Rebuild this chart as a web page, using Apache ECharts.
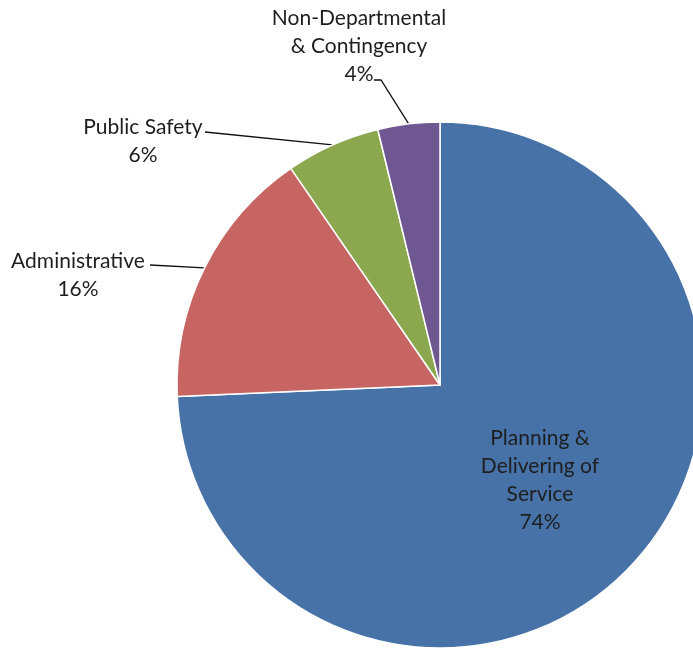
<!DOCTYPE html>
<html>
<head>
<meta charset="utf-8">
<script src="https://cdn.jsdelivr.net/npm/echarts@6/dist/echarts.min.js"></script>
<style>
html,body{margin:0;padding:0;background:#fff;}
#chart{width:693px;height:649px;}
</style>
</head>
<body>
<div id="chart"></div>
<script>
const categories = ['Planning & Delivering of Service', 'Administrative', 'Public Safety', 'Non-Departmental & Contingency'];
const labelTexts = ['Planning &\nDelivering of\nService', 'Administrative', 'Public Safety', 'Non-Departmental\n& Contingency'];
const values = [74.3, 16.1, 5.8, 3.8];
const colors = ['#4672A8', '#C76562', '#8BA84F', '#6F5792'];

// label placement (layout only)
const labelCenters = [[540, 480], [78, 275], [143, 141], [359, 46]];
const lineTails = [null, [[150, 265]], [[205, 132]], [[381, 80], [374, 80]]];

const chart = echarts.init(document.getElementById('chart'));
chart.setOption({
  animation: false,
  series: [{
    type: 'pie',
    center: [440, 385],
    radius: 263,
    startAngle: 90,
    clockwise: true,
    avoidLabelOverlap: false,
    data: categories.map((c, i) => ({
      name: c,
      value: values[i],
      itemStyle: { color: colors[i] },
      label: { position: i === 0 ? 'inside' : 'outside' },
      labelLine: { show: i !== 0 }
    })),
    itemStyle: { borderColor: '#ffffff', borderWidth: 1.5 },
    label: {
      show: true,
      fontFamily: 'Lato',
      fontSize: 21,
      lineHeight: 28,
      color: '#1e1e1e',
      align: 'center',
      formatter: p => labelTexts[p.dataIndex] + '\n' + Math.round(p.percent) + '%'
    },
    labelLine: { show: true, lineStyle: { color: '#111', width: 1.3 } },
    labelLayout: function (params) {
      const i = params.dataIndex;
      const c = labelCenters[i];
      const out = { x: c[0], y: c[1], align: 'center', verticalAlign: 'middle' };
      if (lineTails[i] && params.labelLinePoints) {
        out.labelLinePoints = [params.labelLinePoints[0]].concat(lineTails[i]);
      }
      return out;
    }
  }]
});
</script>
</body>
</html>
